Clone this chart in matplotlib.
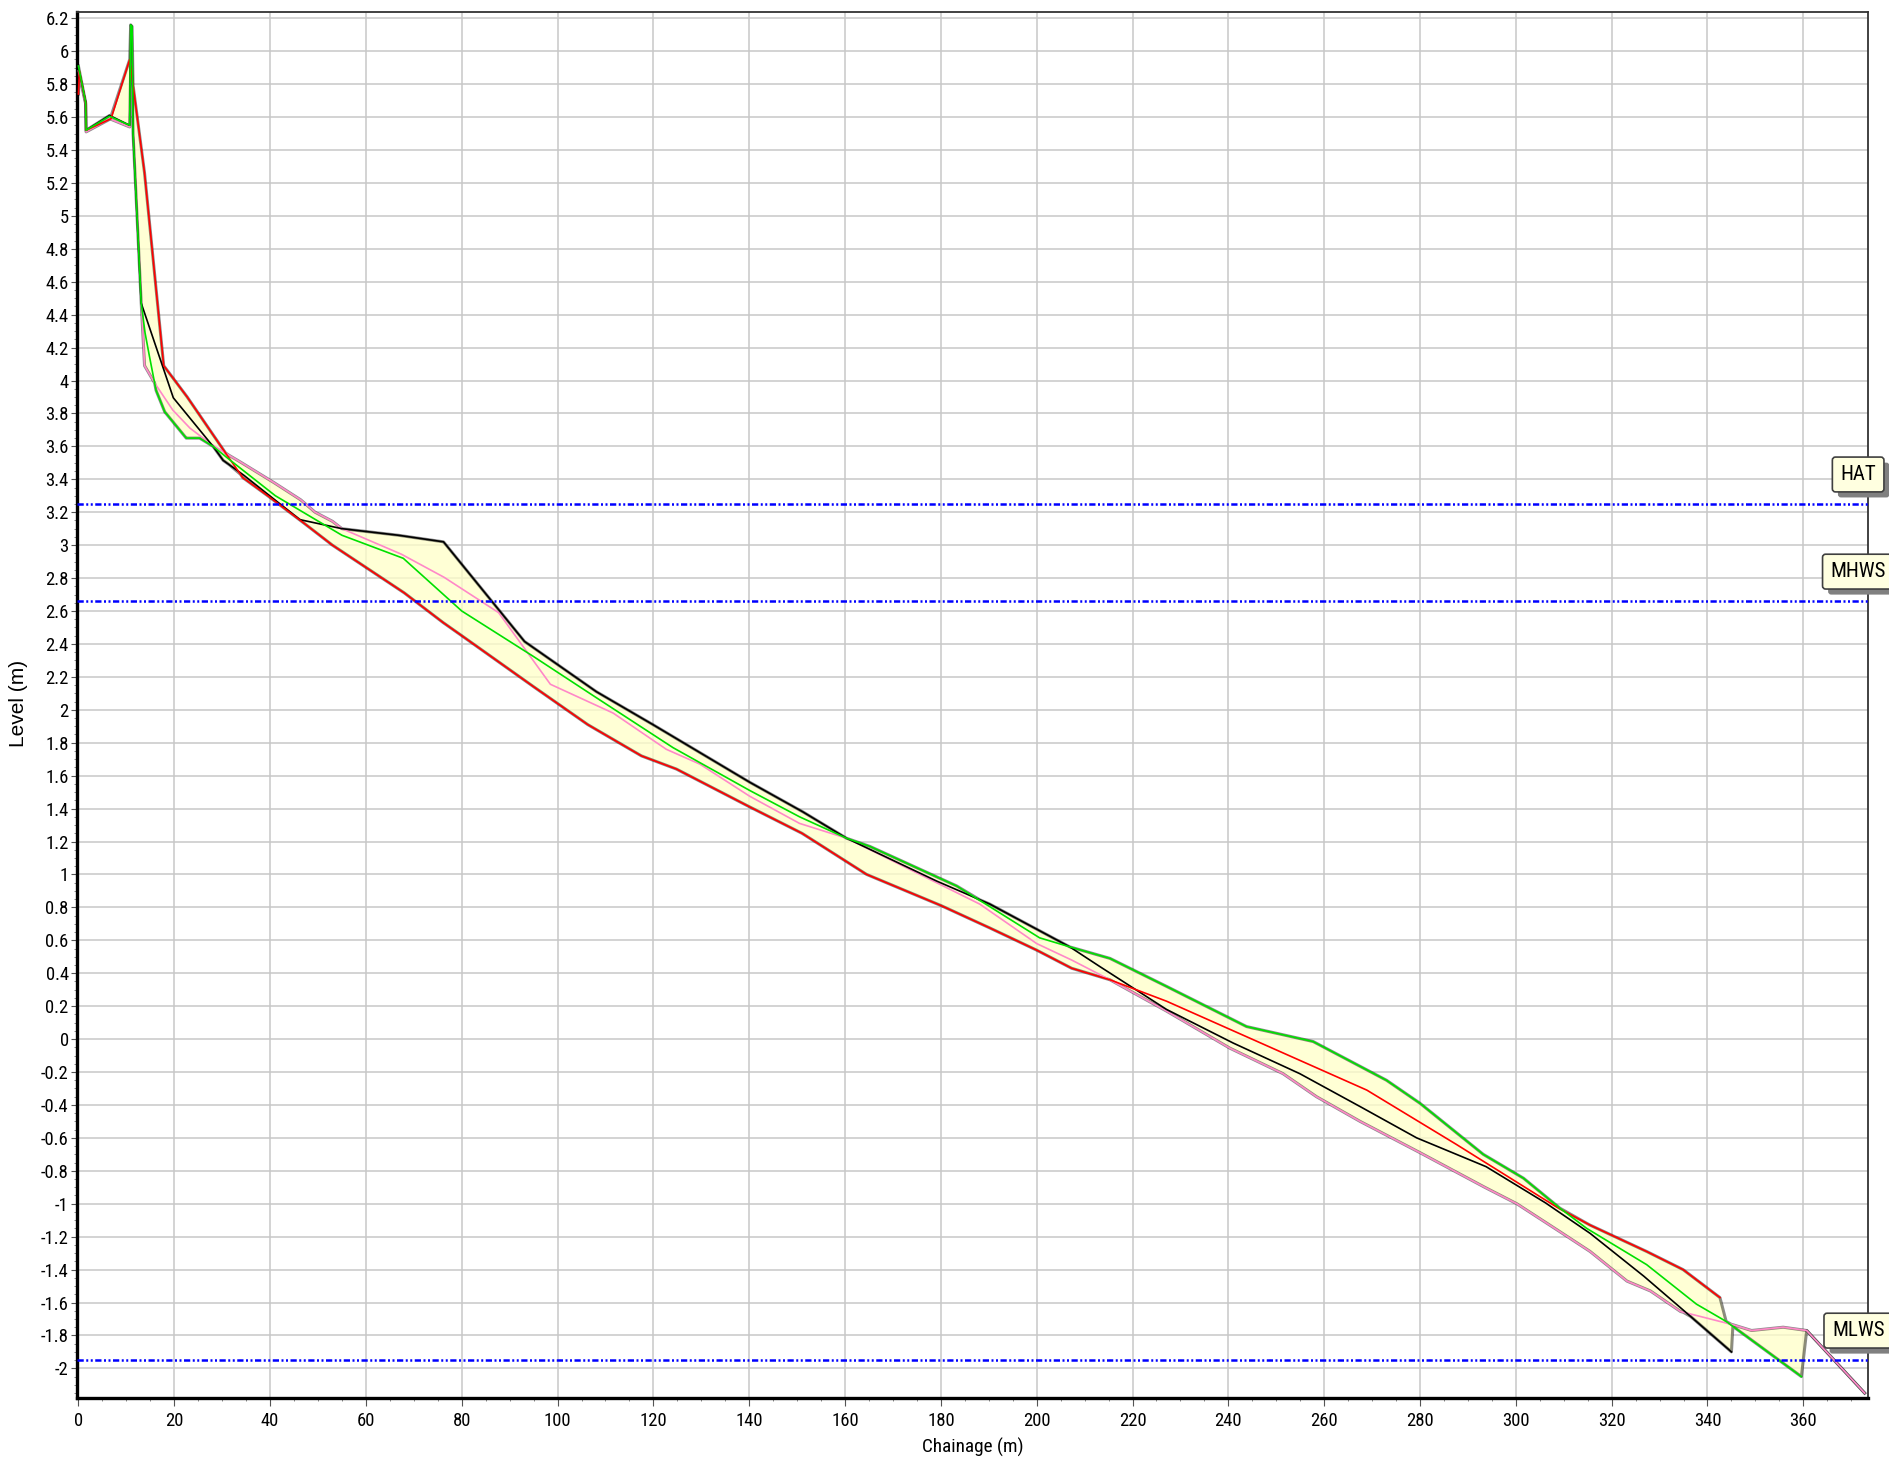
'''
beach profile comparison chart
'''
import numpy as np
import matplotlib
matplotlib.use('Agg')
import matplotlib.pyplot as plt
import matplotlib.transforms as mtransforms
from matplotlib import font_manager, patheffects
from matplotlib.ticker import MultipleLocator, FuncFormatter


# profile surveys (chainage m, level m)
red_x = [0, 0.2, 1.5, 1.6, 6.8, 10.7, 13.8, 17.8, 22.7, 30.7, 34.3, 39.5, 47.0,
         53.0, 68.0, 76.1, 80.0, 95.0, 106.3, 117.5, 124.8, 140.1, 151.0, 164.5, 180.1,
         190.2, 200.0, 207.3, 215.3, 227.1, 268.9, 287.6, 308.5, 315.5, 327.3, 334.9, 342.6]
red_y = [5.74, 5.88, 5.69, 5.52, 5.59, 5.95, 5.26, 4.09, 3.90, 3.56, 3.41, 3.30, 3.135,
         3.00, 2.71, 2.53, 2.45, 2.14, 1.91, 1.72, 1.64, 1.41, 1.25, 1.00, 0.81,
         0.675, 0.54, 0.43, 0.36, 0.23, -0.31, -0.64, -1.02, -1.13, -1.29, -1.40, -1.57]

green_x = [0, 1.5, 1.6, 6.5, 10.7, 10.9, 11.2, 11.4, 13.1, 13.9, 14.8, 16.2, 18.0, 22.5,
           25.3, 28.1, 31.5, 41.1, 46.6, 55.0, 67.8, 80.0, 94.9, 108.8, 124.1, 140.1,
           150.5, 160.3, 165.2, 183.3, 188.8, 200.6, 206.9, 215.3, 227.1, 243.8, 257.7,
           273.0, 280.0, 293.2, 301.6, 309.2, 314.8, 327.3, 337.7, 343.9, 359.6]
green_y = [5.91, 5.69, 5.52, 5.605, 5.55, 6.16, 6.15, 5.50, 4.47, 4.29, 4.15, 3.94, 3.81, 3.65,
           3.65, 3.60, 3.52, 3.30, 3.205, 3.06, 2.92, 2.60, 2.325, 2.06, 1.77, 1.51,
           1.35, 1.22, 1.17, 0.93, 0.83, 0.615, 0.56, 0.49, 0.32, 0.076, -0.015,
           -0.25, -0.39, -0.70, -0.845, -1.027, -1.15, -1.37, -1.61, -1.715, -2.05]

black_x = [0, 1.5, 1.6, 6.5, 10.7, 10.9, 11.2, 11.4, 13.1, 19.8, 28.1, 30.2, 34.5, 46.2,
           55.0, 66.8, 76.2, 93.1, 108.1, 119.9, 140.1, 151.2, 160.3, 179.1, 190.2, 206.9,
           213.2, 227.1, 241.0, 254.9, 267.5, 279.3, 293.8, 306.2, 315.5, 326.7, 334.9, 345.0]
black_y = [5.90, 5.69, 5.52, 5.61, 5.55, 6.16, 6.15, 5.50, 4.47, 3.895, 3.60, 3.515, 3.425, 3.155,
           3.10, 3.06, 3.02, 2.415, 2.11, 1.91, 1.56, 1.38, 1.22, 0.96, 0.82, 0.56,
           0.44, 0.18, -0.024, -0.21, -0.41, -0.60, -0.775, -0.995, -1.18, -1.44, -1.645, -1.90]

pink_x = [0, 1.5, 1.6, 6.5, 10.7, 10.9, 11.2, 11.4, 13.8, 15.9, 19.7, 23.3, 27.4, 30.6,
          33.8, 40.8, 46.4, 49.4, 53.0, 55.0, 67.4, 76.3, 87.7, 98.5, 111.6, 122.7,
          129.7, 140.1, 150.5, 160.3, 166.6, 188.1, 200.0, 207.3, 215.3, 227.1, 240.3,
          251.4, 258.4, 267.5, 280.0, 293.5, 300.2, 309.2, 315.5, 323.2, 328.1, 334.4,
          336.5, 345.3, 349.2, 355.8, 360.7, 372.8]
pink_y = [5.88, 5.68, 5.51, 5.59, 5.54, 6.15, 6.14, 5.50, 4.09, 3.985, 3.82, 3.71, 3.62, 3.56,
          3.505, 3.38, 3.275, 3.20, 3.145, 3.10, 2.945, 2.805, 2.59, 2.155, 1.98, 1.76,
          1.67, 1.475, 1.31, 1.22, 1.13, 0.82, 0.58, 0.48, 0.36, 0.17, -0.055,
          -0.21, -0.35, -0.50, -0.69, -0.90, -1.0, -1.17, -1.29, -1.47, -1.53, -1.655,
          -1.67, -1.735, -1.77, -1.75, -1.77, -2.15]

# tide levels
tide_names = ['HAT', 'MHWS', 'MLWS']
tide_levels = [3.25, 2.66, -1.95]


def pick_font():
    ''' a narrow sans family if one is installed '''

    names = {f.name for f in font_manager.fontManager.ttflist}
    for fam in ['Liberation Sans Narrow', 'Arial Narrow', 'Roboto Condensed',
                'Open Sans Condensed', 'Noto Sans Condensed']:
        if fam in names:
            return fam, True
    return 'Liberation Sans', False


def main():
    ''' the main module '''

    family, is_narrow = pick_font()
    plt.rcParams['font.family'] = [family, 'DejaVu Sans']
    tick_size = 13.4 if is_narrow else 12.5
    tag_size = 15 if is_narrow else 13.5

    fig = plt.figure(figsize=(18.9, 14.66), dpi=100)
    ax = fig.add_axes([77 / 1890, 1 - 1398 / 1466, 1791 / 1890, 1386.3 / 1466])

    profiles = [
        (pink_x, pink_y, '#ff88c8'),
        (black_x, black_y, '#000000'),
        (red_x, red_y, '#ff0000'),
        (green_x, green_y, '#00e000'),
    ]

    # envelope of all surveys
    xs, lo, hi = envelope([(p[0], p[1]) for p in profiles])
    ax.fill_between(xs, lo, hi, color='#ffffc8', alpha=0.75, lw=0, zorder=2)
    ax.plot(xs, lo, color='black', lw=2.2, alpha=0.45, zorder=3)
    ax.plot(xs, hi, color='black', lw=2.2, alpha=0.45, zorder=3)

    for px, py, col in profiles:
        ax.plot(px, py, color=col, lw=1.2, zorder=4)

    # tide lines and labels
    trans = mtransforms.blended_transform_factory(ax.transAxes, ax.transData)
    for name, level in zip(tide_names, tide_levels):
        ax.axhline(level, color='#0000ff', lw=1.8,
                   linestyle=(0, (2.5, 1, 0.8, 1, 0.8, 1)), zorder=5)
        txt = ax.annotate(name, xy=(0.9945, level), xycoords=trans,
                          xytext=(0, 20), textcoords='offset pixels',
                          ha='center', va='bottom', fontsize=tag_size, annotation_clip=False,
                          bbox=dict(boxstyle='round,pad=0.38,rounding_size=0.15',
                                    fc='#ffffe0', ec='#404040', lw=1.2),
                          zorder=10)
        txt.get_bbox_patch().set_path_effects([
            patheffects.SimplePatchShadow(offset=(4, -4), shadow_rgbFace='#808080', alpha=1),
            patheffects.Normal()])

    ax.set_xlim(-0.3, 373.5)
    ax.set_ylim(-2.18, 6.24)
    ax.xaxis.set_major_locator(MultipleLocator(20))
    ax.xaxis.set_minor_locator(MultipleLocator(5))
    ax.yaxis.set_major_locator(MultipleLocator(0.2))
    ax.yaxis.set_minor_locator(MultipleLocator(0.05))
    ax.yaxis.set_major_formatter(FuncFormatter(lambda v, p: f'{round(v, 2):g}' if abs(v) > 1e-9 else '0'))

    ax.grid(True, which='major', color='#c8c8c8', lw=1.1)
    ax.set_axisbelow(True)
    ax.tick_params(axis='both', which='major', labelsize=tick_size, colors='#555555',
                   labelcolor='black', direction='out')
    ax.tick_params(axis='x', which='major', length=6, pad=4)
    ax.tick_params(axis='y', which='major', length=4.5, pad=1.5)
    ax.tick_params(axis='both', which='minor', length=2.5, colors='#777777')

    for side in ['left', 'bottom']:
        ax.spines[side].set_linewidth(2.4)
        ax.spines[side].set_color('black')
    for side in ['top', 'right']:
        ax.spines[side].set_linewidth(1.3)
        ax.spines[side].set_color('#333333')

    fig.text(973 / 1890, 1 - 1447 / 1466, 'Chainage (m)', ha='center', va='center',
             fontsize=tick_size + 0.5)
    fig.text(19 / 1890, 1 - 703 / 1466, 'Level (m)', rotation=90, ha='center', va='center',
             fontsize=15, family=['Liberation Sans', 'DejaVu Sans'])

    plt.savefig('out.png', dpi=100)
    return


def envelope(profiles):
    ''' highest and lowest level of all surveys at each chainage '''

    xs = np.unique(np.concatenate([np.asarray(p[0], float) for p in profiles]))
    lo, hi = [], []
    for x in xs:
        vals = [np.interp(x, px, py) for px, py in profiles if px[0] <= x <= px[-1]]
        lo.append(min(vals))
        hi.append(max(vals))
    return xs, np.array(lo), np.array(hi)


if __name__ == '__main__':
    main()
